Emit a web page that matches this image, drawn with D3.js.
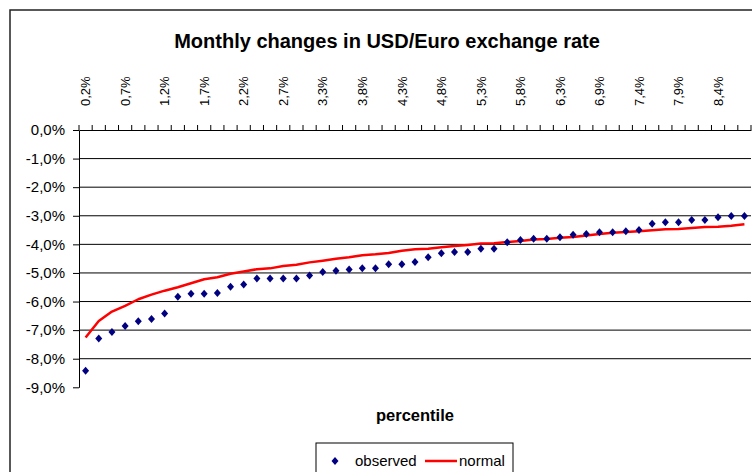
<!DOCTYPE html>
<html>
<head>
<meta charset="utf-8">
<script src="https://cdn.jsdelivr.net/npm/d3@7"></script>
<style>
    body { margin: 0; background: #fff; }
    svg { display: block; font-family: Arial, 'Liberation Sans', sans-serif; }
</style>
</head>
<body>
<svg width="752" height="472"></svg>
<script>
// percentile categories (top axis), every third one is labelled
const categories = ['0,2%', '0,3%', '0,5%', '0,7%', '0,9%', '1,0%', '1,2%', '1,4%', '1,5%', '1,7%',
    '1,9%', '2,1%', '2,2%', '2,4%', '2,6%', '2,7%', '2,9%', '3,1%', '3,3%', '3,4%',
    '3,6%', '3,8%', '4,0%', '4,1%', '4,3%', '4,5%', '4,6%', '4,8%', '5,0%', '5,2%',
    '5,3%', '5,5%', '5,7%', '5,8%', '6,0%', '6,2%', '6,3%', '6,5%', '6,7%', '6,9%',
    '7,0%', '7,2%', '7,4%', '7,6%', '7,7%', '7,9%', '8,1%', '8,2%', '8,4%', '8,6%', '8,8%'];

// monthly change, in percent
const observed = [-8.42, -7.29, -7.07, -6.86, -6.69, -6.61, -6.42, -5.83, -5.73, -5.73,
    -5.70, -5.48, -5.40, -5.19, -5.19, -5.19, -5.19, -5.09, -4.97, -4.92,
    -4.88, -4.84, -4.84, -4.70, -4.70, -4.62, -4.45, -4.31, -4.27, -4.27,
    -4.15, -4.15, -3.93, -3.85, -3.80, -3.80, -3.75, -3.66, -3.64, -3.58,
    -3.58, -3.54, -3.50, -3.28, -3.23, -3.23, -3.15, -3.15, -3.05, -3.01, -3.01];

const normal = [-7.26, -6.68, -6.35, -6.15, -5.92, -5.76, -5.62, -5.50, -5.36, -5.22,
    -5.15, -5.03, -4.95, -4.87, -4.84, -4.76, -4.71, -4.63, -4.57, -4.50,
    -4.45, -4.38, -4.35, -4.30, -4.22, -4.17, -4.15, -4.10, -4.06, -4.02,
    -3.97, -3.96, -3.92, -3.88, -3.83, -3.81, -3.77, -3.74, -3.69, -3.64,
    -3.59, -3.57, -3.54, -3.51, -3.47, -3.46, -3.43, -3.39, -3.38, -3.35, -3.30];

const yTicks = [0, -1, -2, -3, -4, -5, -6, -7, -8, -9];

function drawChart() {
    const svg = d3.select('svg');
    const plot = { left: 79, right: 751, top: 130, bottom: 387.3 };
    const fmt = v => d3.format('.1f')(v).replace('.', ',').replace('−', '-') + '%';

    const xScale = d3.scaleBand()
        .domain(categories)
        .range([plot.left, plot.right])
        .padding(0);
    const yScale = d3.scaleLinear()
        .domain([0, -9])
        .range([plot.top, plot.bottom]);

    // outer chart frame (runs off the picture on the right and bottom)
    svg.append('rect')
        .attr('x', 10).attr('y', 10)
        .attr('width', 800).attr('height', 500)
        .attr('fill', 'none')
        .attr('stroke', '#222')
        .attr('stroke-width', 1.5);

    // title
    svg.append('text')
        .text('Monthly changes in USD/Euro exchange rate')
        .attr('x', 387)
        .attr('y', 48)
        .style('text-anchor', 'middle')
        .style('font-weight', 'bold')
        .style('font-size', '20px');

    // gridlines
    svg.selectAll('.grid')
        .data(yTicks.filter(d => d !== 0 && d !== -9))
        .join('line')
        .attr('class', 'grid')
        .attr('x1', plot.left).attr('x2', plot.right)
        .attr('y1', d => yScale(d)).attr('y2', d => yScale(d))
        .attr('stroke', '#000')
        .attr('stroke-width', 1);

    // y axis
    const yAxis = d3.axisLeft(yScale)
        .tickValues(yTicks)
        .tickFormat(fmt)
        .tickSize(6)
        .tickSizeOuter(0)
        .tickPadding(8);
    const gy = svg.append('g')
        .attr('transform', `translate(${plot.left}, 0)`)
        .call(yAxis);
    gy.selectAll('text').style('font-size', '15px').attr('fill', '#000');
    gy.selectAll('line, path').attr('stroke', '#000');

    // x axis on top, ticks between categories
    const xAxis = d3.axisTop(xScale)
        .tickValues(categories.filter((d, i) => i % 3 === 0))
        .tickSize(0)
        .tickSizeOuter(0);
    const gx = svg.append('g')
        .attr('transform', `translate(0, ${plot.top})`)
        .call(xAxis);
    gx.select('path').attr('stroke', '#000');
    gx.selectAll('text')
        .attr('x', 0)
        .attr('y', 0)
        .attr('dy', '0.36em')
        .attr('transform', 'translate(0, -24) rotate(-90)')
        .style('text-anchor', 'start')
        .style('font-size', '13px')
        .attr('fill', '#000');
    gx.selectAll('.sep')
        .data(categories.concat(['end']))
        .join('line')
        .attr('class', 'sep')
        .attr('x1', (d, i) => plot.left + i * xScale.bandwidth())
        .attr('x2', (d, i) => plot.left + i * xScale.bandwidth())
        .attr('y1', 0).attr('y2', -5)
        .attr('stroke', '#000');

    // normal quantiles
    const line = d3.line()
        .x((d, i) => xScale(categories[i]) + xScale.bandwidth() / 2)
        .y(d => yScale(d));
    svg.append('path')
        .datum(normal)
        .attr('d', line)
        .attr('fill', 'none')
        .attr('stroke', '#ff0000')
        .attr('stroke-width', 2.5)
        .attr('stroke-linejoin', 'round');

    // observed points as diamonds
    const diamond = 'M0,-4L3.5,0L0,4L-3.5,0Z';
    svg.selectAll('.pt')
        .data(observed)
        .join('path')
        .attr('class', 'pt')
        .attr('d', diamond)
        .attr('transform', (d, i) => `translate(${xScale(categories[i]) + xScale.bandwidth() / 2}, ${yScale(d)})`)
        .attr('fill', '#000080');

    // axis title
    svg.append('text')
        .text('percentile')
        .attr('x', (plot.left + plot.right) / 2)
        .attr('y', 421)
        .style('text-anchor', 'middle')
        .style('font-weight', 'bold')
        .style('font-size', '16.5px');

    // legend
    const legend = svg.append('g');
    legend.append('rect')
        .attr('x', 316).attr('y', 443)
        .attr('width', 197).attr('height', 60)
        .attr('fill', '#fff')
        .attr('stroke', '#000');
    legend.append('path')
        .attr('d', diamond)
        .attr('transform', 'translate(335, 461)')
        .attr('fill', '#000080');
    legend.append('text')
        .text('observed')
        .attr('x', 355).attr('y', 466)
        .style('font-size', '15px');
    legend.append('line')
        .attr('x1', 425).attr('x2', 457)
        .attr('y1', 461).attr('y2', 461)
        .attr('stroke', '#ff0000')
        .attr('stroke-width', 2.5);
    legend.append('text')
        .text('normal')
        .attr('x', 459).attr('y', 466)
        .style('font-size', '15px');
}

window.addEventListener('load', drawChart);
</script>
</body>
</html>
